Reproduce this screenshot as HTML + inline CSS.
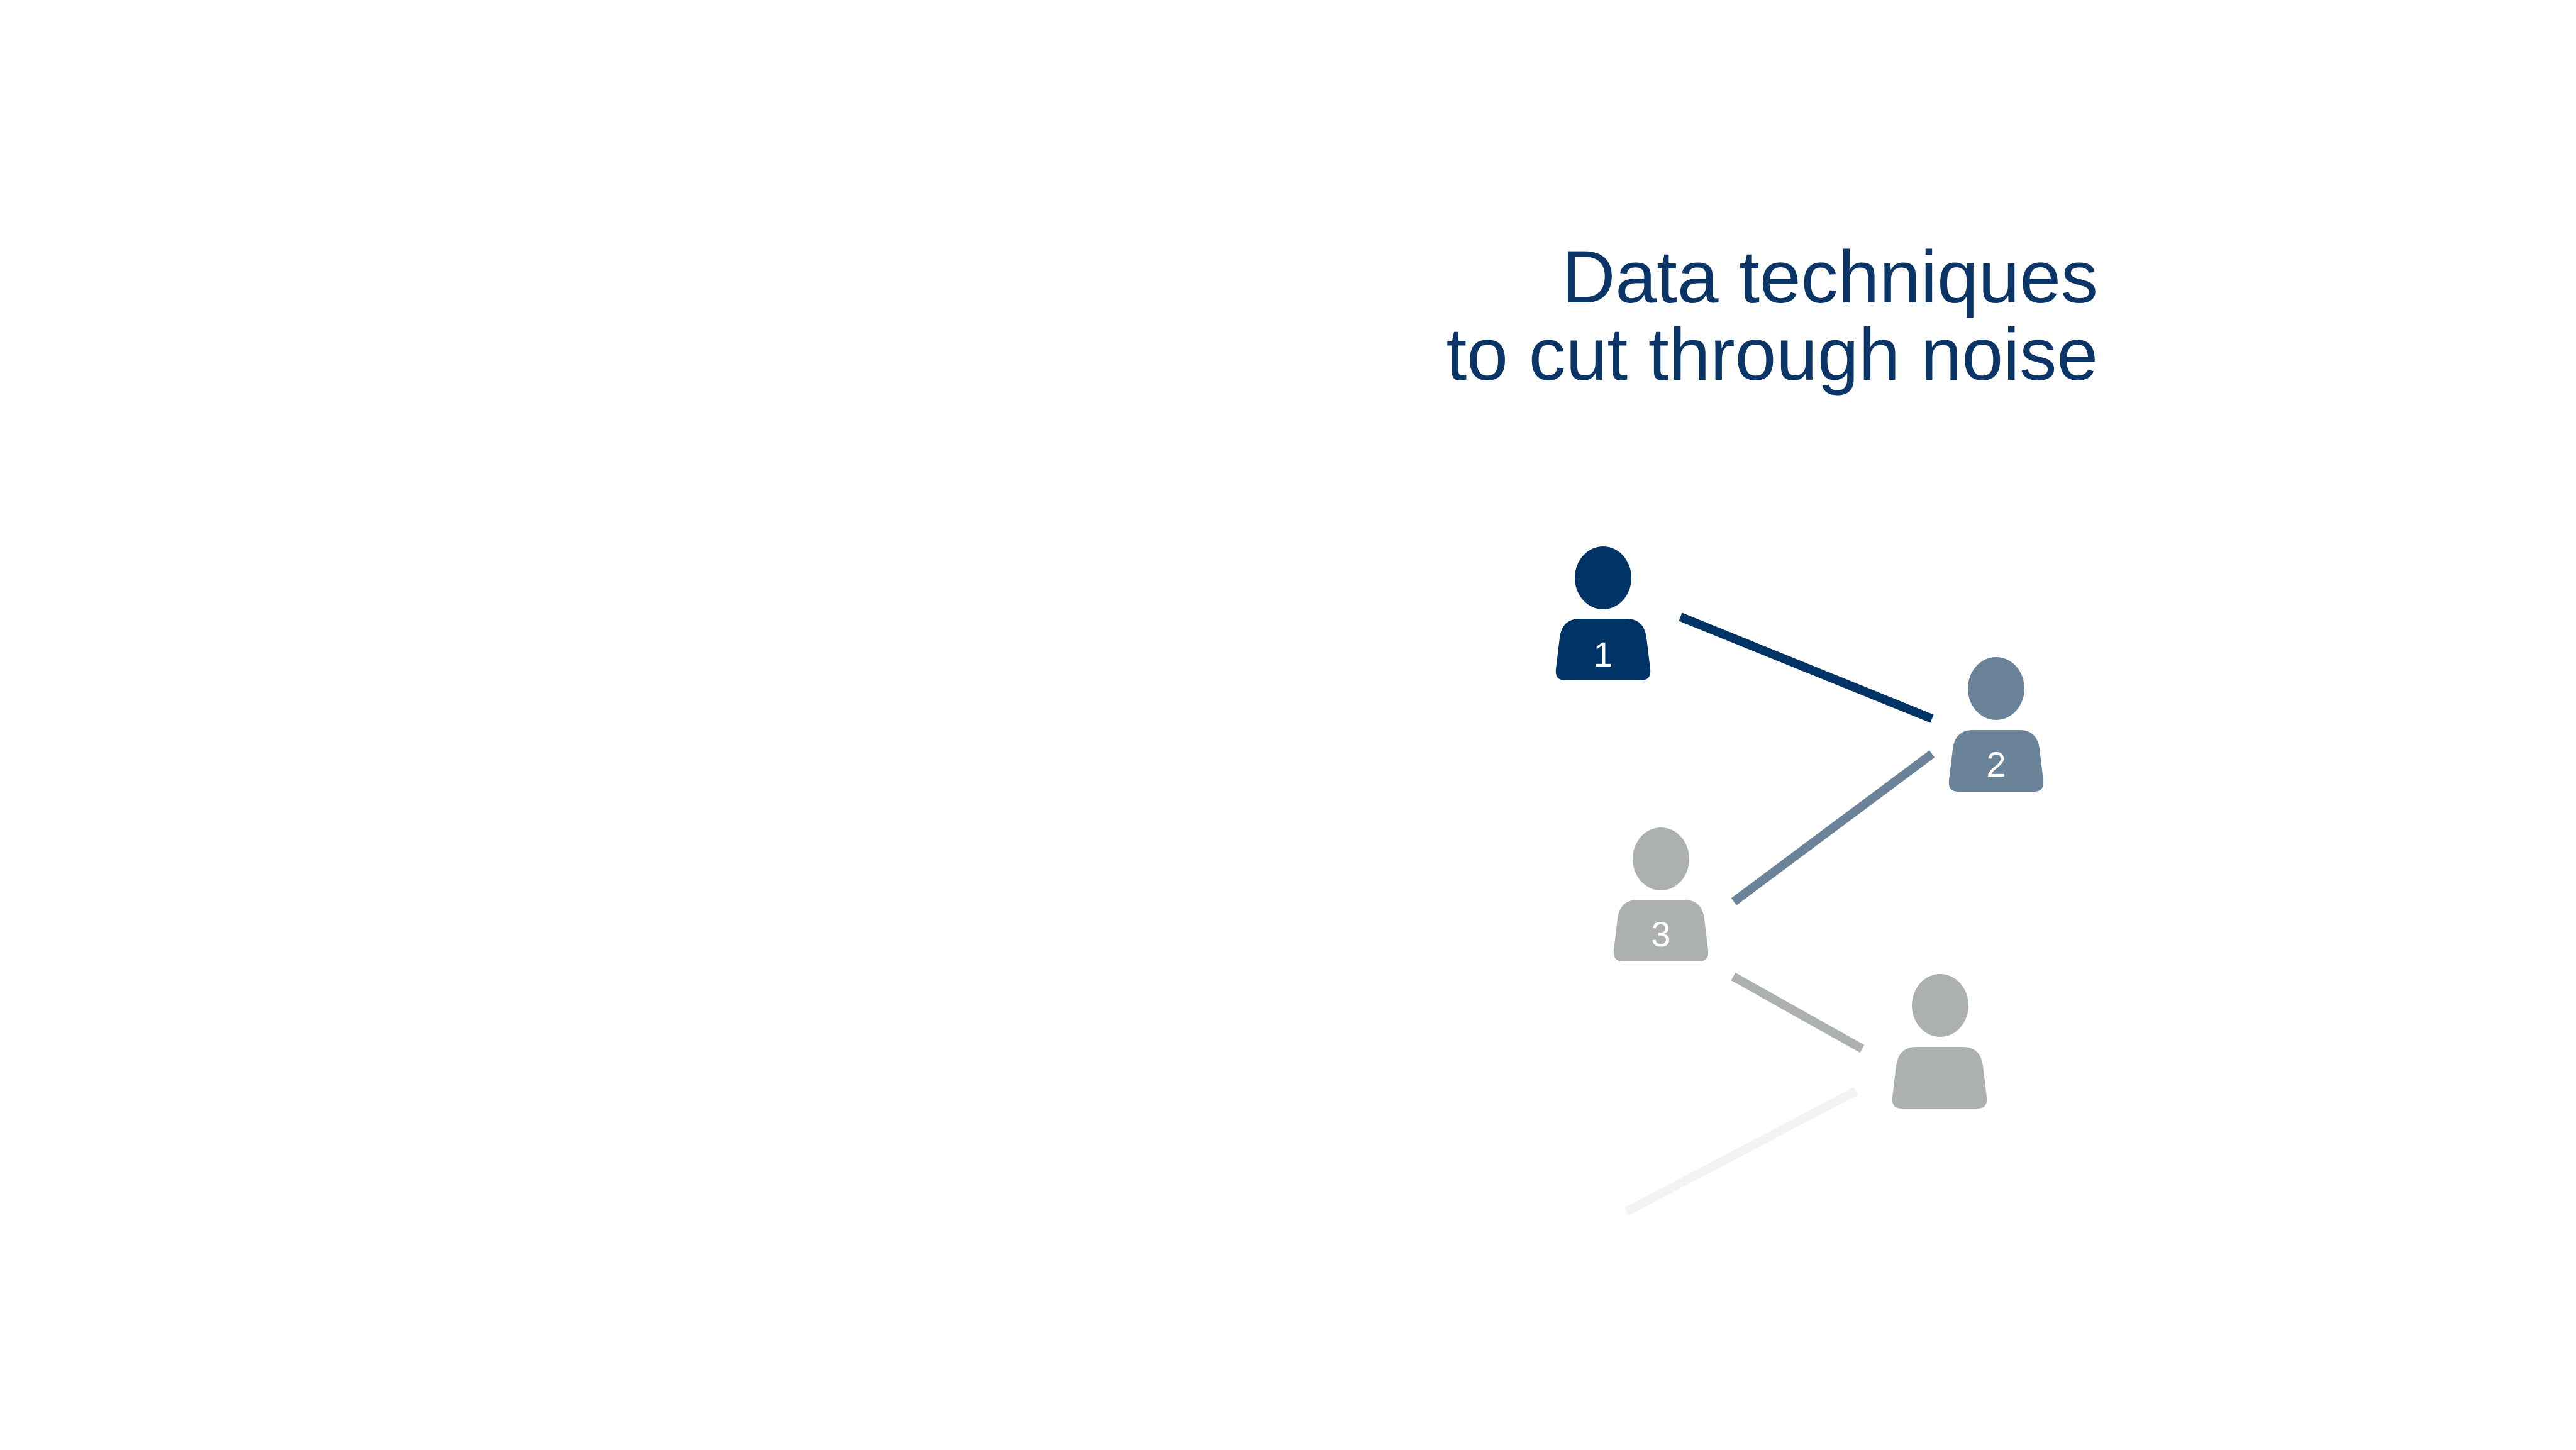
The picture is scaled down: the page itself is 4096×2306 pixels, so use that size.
<!DOCTYPE html>
<html><head><meta charset="utf-8"><style>
html,body{margin:0;padding:0;background:#fff;}
svg{display:block}
</style></head><body>
<svg width="4096" height="2306" viewBox="0 0 4096 2306" xmlns="http://www.w3.org/2000/svg">
<defs>
<path id="body" d="M38,0 H112 Q140,0 144,30 L150,80 Q152,98 135,98 H15 Q-2,98 0,80 L6,30 Q10,0 38,0 Z"/>
</defs>
<g transform="translate(-14,-5)">
<g font-family="Liberation Sans, sans-serif" fill="#0b3566" text-anchor="end" font-size="118">
<text x="3350" y="486">Data techniques</text>
<text x="3350" y="609">to cut through noise</text>
</g>
<g stroke-linecap="butt">
<line x1="2686" y1="986" x2="3086" y2="1148" stroke="#003366" stroke-width="14"/>
<line x1="3086" y1="1204" x2="2771" y2="1439" stroke="#6a8399" stroke-width="14"/>
<line x1="2770" y1="1558" x2="2975" y2="1673" stroke="#adb0b1" stroke-width="14"/>
<line x1="2965" y1="1740" x2="2600" y2="1932" stroke="#f3f3f3" stroke-width="14"/>
</g>
<g fill="#003366">
<ellipse cx="2563" cy="924" rx="45" ry="50"/>
<use href="#body" x="2488" y="989"/>
</g>
<text x="2563" y="1065" fill="#fff" font-family="Liberation Sans, sans-serif" font-size="56" text-anchor="middle">1</text>
<g fill="#6a8399">
<ellipse cx="3188" cy="1100" rx="45" ry="50"/>
<use href="#body" x="3113" y="1166"/>
</g>
<text x="3188" y="1240" fill="#fff" font-family="Liberation Sans, sans-serif" font-size="56" text-anchor="middle">2</text>
<g fill="#adb0b1">
<ellipse cx="2655" cy="1371" rx="45" ry="50"/>
<use href="#body" x="2580" y="1436"/>
</g>
<text x="2655" y="1510" fill="#fff" font-family="Liberation Sans, sans-serif" font-size="56" text-anchor="middle">3</text>
<g fill="#adb0b1">
<ellipse cx="3099" cy="1604" rx="45" ry="50"/>
<use href="#body" x="3023" y="1670"/>
</g>
</g>
</svg>
</body></html>
